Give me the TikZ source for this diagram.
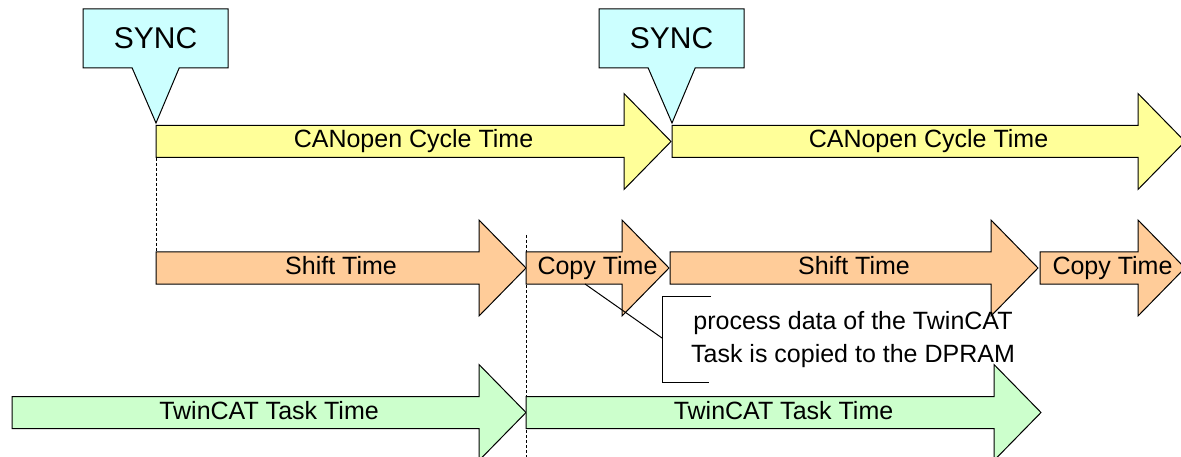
\documentclass[tikz,border=0pt]{standalone}
\usepackage{fontspec}
\setmainfont{Liberation Sans}
\usetikzlibrary{shapes.callouts}
\definecolor{cycleyellow}{RGB}{255,255,153}
\definecolor{shiftorange}{RGB}{255,204,153}
\definecolor{taskgreen}{RGB}{204,255,204}
\definecolor{synccyan}{RGB}{204,255,255}
\begin{document}
\begin{tikzpicture}[x=1pt, y=-1pt, line width=1pt,
    lbl/.style={font=\fontsize{25}{30}\selectfont, text height=18pt, text depth=5pt, inner sep=0pt},
    notetext/.style={font=\fontsize{25}{33}\selectfont, align=center, inner sep=0pt},
    syncbox/.style={rectangle callout, draw, fill=synccyan, minimum width=145pt, minimum height=59pt,
      callout pointer width=47pt, inner sep=0pt, font=\fontsize{30}{36}\selectfont},
    tick/.style={dash pattern=on 3pt off 2pt}]
  \clip (0,0) rectangle (1181,457);
  % Dotted markers
  \draw[tick] (156,158) -- (156,252);
  \draw[tick] (526,235) -- (526,457);
  % Time arrows: name/start/tip/middle/colour/text
  \foreach \nm/\xa/\xb/\ym/\col/\txt in {
      cyc1/156/671/141.5/cycleyellow/CANopen Cycle Time,
      cyc2/672/1185/141.5/cycleyellow/CANopen Cycle Time,
      shift1/156/526/268/shiftorange/Shift Time,
      copy1/526/669/268/shiftorange/Copy Time,
      shift2/670/1038/268/shiftorange/Shift Time,
      copy2/1040/1185/268/shiftorange/Copy Time,
      task1/12/526/412.5/taskgreen/TwinCAT Task Time,
      task2/526/1041/412.5/taskgreen/TwinCAT Task Time} {
    \draw[fill=\col] (\xa,\ym-16) -- (\xb-47,\ym-16) -- (\xb-47,\ym-48) -- (\xb,\ym)
      -- (\xb-47,\ym+48) -- (\xb-47,\ym+16) -- (\xa,\ym+16) -- cycle;
    \node[lbl] (\nm) at ({(\xa+\xb)/2},\ym) {\txt};
  }
  % SYNC markers
  \node[syncbox, callout absolute pointer={(156,123)}] (sync1) at (155.5,38.5) {SYNC};
  \node[syncbox, callout absolute pointer={(672,123)}] (sync2) at (671.5,38.5) {SYNC};
  % Note on the copy
  \node[notetext] (note) at (853,340) {process data of the TwinCAT\\Task is copied to the DPRAM};
  \coordinate (pin) at (585,284);
  \coordinate (brk) at (662,338);
  \draw (pin) -- (brk);
  \draw (711,296) -- (662,296) -- (662,382) -- (709,382);
\end{tikzpicture}
\end{document}
